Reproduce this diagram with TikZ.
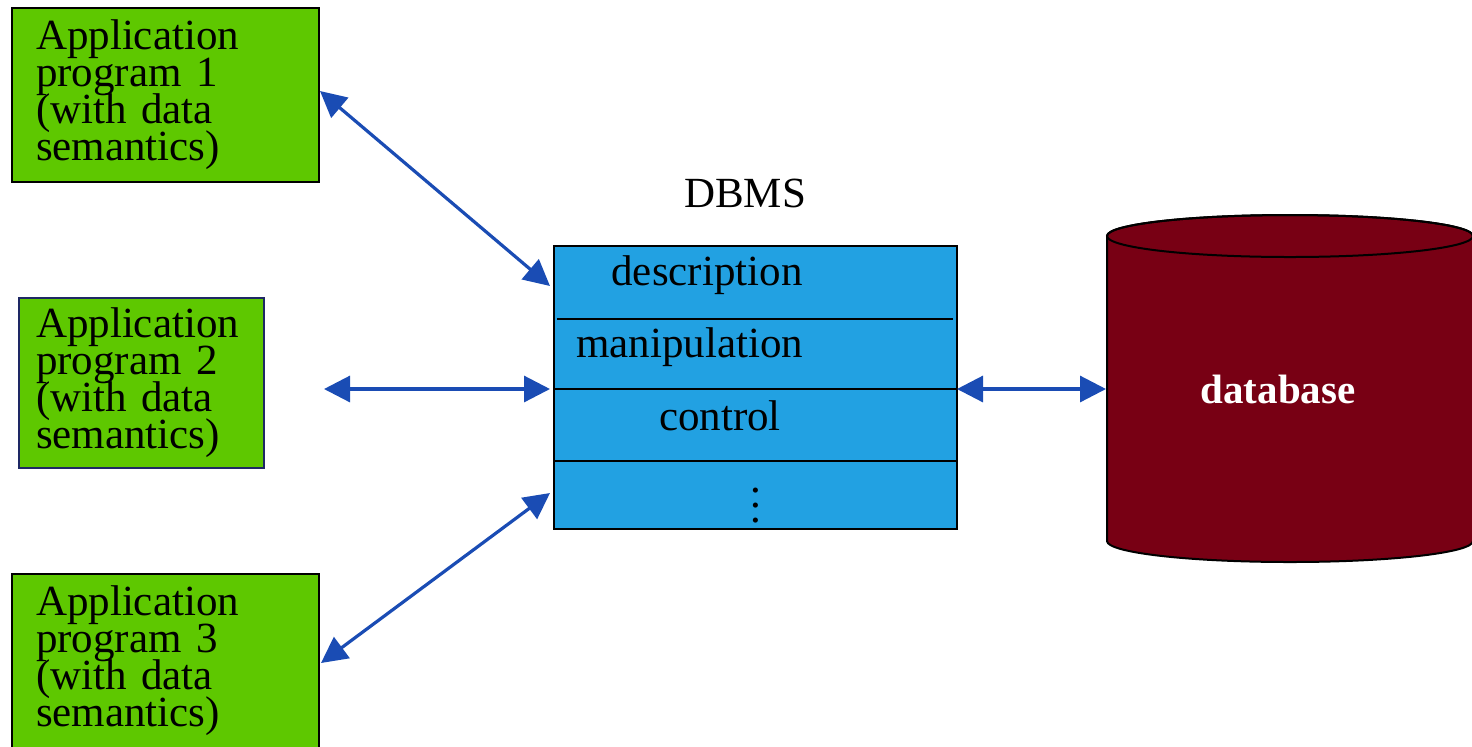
\documentclass[tikz,border=0pt]{standalone}
\usepackage{fontspec}
\setmainfont{Liberation Serif}
\usepackage{tikz}
\usetikzlibrary{arrows.meta}
\tikzset{>={Triangle[length=13pt,width=13pt]}}
\definecolor{appgreen}{RGB}{94,200,0}
\definecolor{dbmsblue}{RGB}{34,161,226}
\definecolor{dbred}{RGB}{120,0,20}
\definecolor{linkblue}{RGB}{26,76,180}
\definecolor{navy}{RGB}{30,40,100}
\newcommand\tightfont[2]{\fontsize{#1}{#2}\selectfont\setlength{\lineskiplimit}{-20pt}}
\tikzset{
  appbox/.style={draw, line width=1pt, fill=appgreen, anchor=north west,
    align=left, inner ysep=0pt, font={\tightfont{21.5}{18.5}}},
  txt/.style={inner sep=0pt, font=\fontsize{21.5}{24}\selectfont},
  link/.style={<->, draw=linkblue, line width=1.6pt},
  rule/.style={line width=1pt}
}

\begin{document}
\begin{tikzpicture}[x=0.5pt,y=-0.5pt]
\useasboundingbox (0,0) rectangle (1472,746);

\node[appbox, minimum width=153.5pt, minimum height=87pt, inner xsep=12pt, text width=129.5pt]
  (app1) at (11,7) {Application\\program 1\\(with data\\semantics)};
\node[appbox, draw=navy, minimum width=122.5pt, minimum height=85pt, inner xsep=8.5pt, text width=105.5pt]
  (app2) at (18,297) {Application\\program 2\\(with data\\semantics)};
\node[appbox, minimum width=153.5pt, minimum height=87pt, inner xsep=12pt, text width=129.5pt]
  (app3) at (11,573) {Application\\program 3\\(with data\\semantics)};

\node[txt, anchor=base] (title) at (745,207) {DBMS};
\node[draw, line width=1pt, fill=dbmsblue, minimum width=201.5pt, minimum height=141.5pt]
  (dbms) at (755.5,387.5) {};
\draw[rule] (557,319) -- (953,319);
\draw[rule] (555,389) -- (957,389);
\draw[rule] (555,461) -- (957,461);
\node[txt, anchor=base] (descr) at (707,285) {description};
\node[txt, anchor=base west] (manip) at (576,357) {manipulation};
\node[txt, anchor=base] (ctrl) at (720,430) {control};
\node[txt, align=center, font={\tightfont{21.5}{7.5}}] (more) at (756,506) {.\\.\\.};

% database
\filldraw[fill=dbred, line width=1pt] (1107,236) -- (1107,541)
  arc[start angle=180, end angle=0, x radius=183, y radius=21] -- (1473,236)
  arc[start angle=0, end angle=-180, x radius=183, y radius=21] -- cycle;
\draw[line width=1pt] (1290,236) ellipse (183 and 21);
\node[txt, text=white, font=\fontsize{20.5}{24}\selectfont\bfseries] (db) at (1278,389) {database};

\coordinate (p1) at (320,91);
\coordinate (d1) at (550,286);
\coordinate (p2) at (324,389);
\coordinate (d2) at (550,389);
\coordinate (p3) at (321,663);
\coordinate (d3) at (550,493);
\coordinate (d4) at (957,389);
\coordinate (s4) at (1106,389);

\draw[link] (p1) -- (d1);
\draw[link] (p2) -- (d2);
\draw[link] (p3) -- (d3);
\draw[link] (d4) -- (s4);
\end{tikzpicture}
\end{document}
